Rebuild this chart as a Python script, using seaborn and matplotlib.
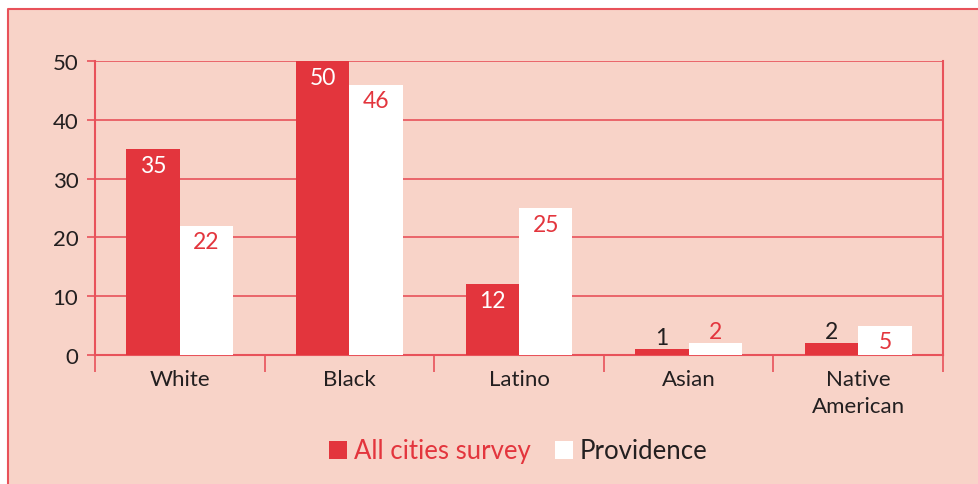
import pandas as pd
import seaborn as sns
import matplotlib.pyplot as plt
from matplotlib.patches import Rectangle
from matplotlib.lines import Line2D

# data
groups = ['White', 'Black', 'Latino', 'Asian', 'Native\nAmerican']
all_cities = [35, 50, 12, 1, 2]
providence = [22, 46, 25, 2, 5]
series_names = ['All cities survey', 'Providence']

RED = '#E3353D'
PINK = '#F8D3C8'
DARK = '#231F20'
LINE = '#E8525A'

df = pd.DataFrame({
    'group': groups * 2,
    'value': all_cities + providence,
    'series': [series_names[0]] * 5 + [series_names[1]] * 5,
})

sns.set_style('white')
plt.rcParams['font.family'] = ['Lato', 'DejaVu Sans']

fig = plt.figure(figsize=(9.79, 4.85), dpi=100)
fig.patch.set_facecolor('white')
# pink panel, red frame only on top and left
x0, y1 = 8 / 979, 1 - 10 / 485
fig.patches.append(Rectangle((x0, 0), 1 - x0, y1, transform=fig.transFigure,
                             facecolor=PINK, edgecolor='none', zorder=-5))
fig.lines.append(Line2D([x0, x0, 1], [0, y1, y1], transform=fig.transFigure,
                        color=LINE, linewidth=1.5, zorder=-4))

ax = fig.add_axes([95 / 979, 1 - 356 / 485, 848 / 979, 294 / 485])
ax.set_facecolor('none')
ax.set_zorder(2)

sns.barplot(data=df, x='group', y='value', hue='series', ax=ax,
            palette=[RED, 'white'], width=0.63, saturation=1,
            linewidth=0, legend=False, zorder=3)

ax.set_ylim(0, 50)
ax.set_xlim(-0.5, 4.5)
ax.set_yticks([0, 10, 20, 30, 40, 50])
ax.yaxis.grid(True, color=LINE, linewidth=1.2, zorder=0)
ax.set_axisbelow(True)
for s in ax.spines.values():
    s.set_color(LINE)
    s.set_linewidth(1.5)
ax.spines['top'].set_visible(False)

ax.tick_params(axis='y', length=6, width=1.2, color=LINE, left=True,
               labelsize=16, labelcolor=DARK, pad=6)
ax.tick_params(axis='x', which='major', length=0, labelsize=16,
               labelcolor=DARK, pad=10)
ax.set_xticks([-0.5, 0.5, 1.5, 2.5, 3.5, 4.5], minor=True)
ax.tick_params(axis='x', which='minor', length=12, width=1.2,
               color=LINE, bottom=True)
ax.set_xlabel('')
ax.set_ylabel('')
for lab in ax.get_xticklabels():
    lab.set_linespacing(1.45)
    lab.set_verticalalignment('top')

# value labels
for ci, cont in enumerate(ax.containers):
    for bar, v in zip(cont, [all_cities, providence][ci]):
        x = bar.get_x() + bar.get_width() / 2
        if v >= 5:
            col = 'white' if ci == 0 else RED
            ax.annotate(str(v), (x, v), xytext=(0, -4), textcoords='offset points',
                        ha='center', va='top', fontsize=16.5, color=col, zorder=5)
        else:
            col = DARK if ci == 0 else RED
            ax.annotate(str(v), (x, v), xytext=(0, 1), textcoords='offset points',
                        ha='center', va='bottom', fontsize=16.5, color=col, zorder=5)

handles = [Line2D([], [], marker='s', linestyle='none', markersize=13,
                  markerfacecolor=RED, markeredgewidth=0),
           Line2D([], [], marker='s', linestyle='none', markersize=13,
                  markerfacecolor='white', markeredgewidth=0)]
leg = fig.legend(handles, series_names, loc='center',
                 bbox_to_anchor=(519 / 979, 1 - 452 / 485), ncol=2,
                 frameon=False, fontsize=18.5, handlelength=0.6,
                 handletextpad=0.3, columnspacing=1.0)
leg.get_texts()[0].set_color(RED)
leg.get_texts()[1].set_color(DARK)

fig.savefig('out.png', dpi=100, facecolor=fig.get_facecolor())
